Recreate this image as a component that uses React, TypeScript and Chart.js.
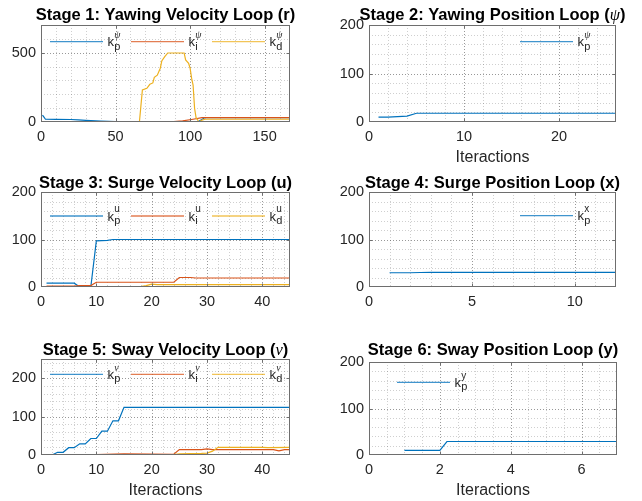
import React, { useEffect, useRef } from 'react';
import { Chart, registerables } from 'chart.js';

Chart.register(...registerables);

// ---------- colours ----------
const BLUE = '#0072BD';
const ORANGE = '#D95319';
const YELLOW = '#EDB120';

// ---------- Stage 1: Yawing Velocity Loop (r) ----------
const s1KpX = [1, 2, 3, 10, 20, 25, 30, 40, 45, 50, 60, 105, 110, 167];
const s1KpY = [50, 35, 20, 19, 18, 15, 12, 6, 4, 2, 0, 0, 32, 32];
const s1KiX = [1, 85, 95, 102, 108, 167];
const s1KiY = [0, 0, 8, 20, 31, 31];
const s1KdX = [1, 66, 68, 71, 73, 75, 76, 78, 80, 81, 83, 85, 96, 97, 99, 100, 101, 102, 103, 104, 106, 108, 110, 167];
const s1KdY = [0, 0, 231, 243, 272, 282, 322, 338, 388, 440, 472, 498, 498, 448, 424, 388, 316, 267, 99, 31, 0, 14, 20, 20];
const s1XTicks = [0, 50, 100, 150];
const s1YTicks = [0, 500];

// ---------- Stage 2: Yawing Position Loop (psi) ----------
const s2KpX = [1, 2, 3, 4, 5, 26];
const s2KpY = [10, 10, 11, 12, 18, 18];
const s2XTicks = [0, 10, 20];
const s2YTicks = [0, 100, 200];

// ---------- Stage 3: Surge Velocity Loop (u) ----------
const s3KpX = [1, 6, 7, 9, 10, 12, 13, 45];
const s3KpY = [8, 8, 0, 0, 97, 98, 100, 100];
const s3KiX = [1, 6, 7, 9, 10, 24, 25, 27, 28, 45];
const s3KiY = [2, 2, 3, 3, 10, 10, 20, 20, 19, 19];
const s3KdX = [1, 9, 10, 18, 19, 20, 21, 45];
const s3KdY = [0, 0, 1, 1, 3, 6, 5, 5];
const s3XTicks = [0, 10, 20, 30, 40];
const s3YTicks = [0, 100, 200];

// ---------- Stage 4: Surge Position Loop (x) ----------
const s4KpX = [1, 2, 3, 12];
const s4KpY = [30, 30, 31, 31];
const s4XTicks = [0, 5, 10];
const s4YTicks = [0, 100, 200];

// ---------- Stage 5: Sway Velocity Loop (nu) ----------
const s5KpX = [1, 2, 3, 4, 5, 6, 7, 8, 9, 10, 11, 12, 13, 14, 15, 45];
const s5KpY = [0, 0, 7, 7, 19, 19, 29, 29, 43, 43, 62, 62, 89, 89, 124, 124];
const s5KiX = [1, 10, 15, 24, 25, 29, 30, 31, 42, 43, 44, 45];
const s5KiY = [0, 1, 3, 2, 14, 14, 16, 14, 14, 11, 14, 14];
const s5KdX = [1, 24, 25, 29, 30, 31, 32, 40, 41, 45];
const s5KdY = [0, 1, 3, 4, 5, 10, 20, 20, 19, 20];
const s5XTicks = [0, 10, 20, 30, 40];
const s5YTicks = [0, 100, 200];

// ---------- Stage 6: Sway Position Loop (y) ----------
const s6KpX = [1, 2, 2.2, 7];
const s6KpY = [10, 10, 29, 29];
const s6XTicks = [0, 2, 4, 6];
const s6YTicks = [0, 100, 200];

type Seg = { t: string; greek?: boolean };
type Series = { x: number[]; y: number[]; color: string; sub: string; sup: string; greekSup?: boolean };
type Panel = {
  box: [number, number, number, number];
  area: [number, number, number, number];
  xMax: number;
  yMax: number;
  xTicks: number[];
  yTicks: number[];
  xMinor: number;
  yMinor: number;
  title: Seg[];
  titleY: number;
  xlabel?: string;
  series: Series[];
  legendY: number;
  legendX: number[];
};

const FONT = '"Liberation Sans", Arial, Helvetica, sans-serif';
const SERIF = '"Liberation Serif", "DejaVu Serif", serif';
const TXT = '#262626';

const panels: Panel[] = [
  {
    box: [0, 0, 321, 165], area: [41, 25, 290, 122], xMax: 167, yMax: 700,
    xTicks: s1XTicks, yTicks: s1YTicks, xMinor: 10, yMinor: 100,
    title: [{ t: 'Stage 1: Yawing Velocity Loop (r)' }], titleY: 20,
    series: [
      { x: s1KpX, y: s1KpY, color: BLUE, sub: 'p', sup: 'ψ', greekSup: true },
      { x: s1KiX, y: s1KiY, color: ORANGE, sub: 'i', sup: 'ψ', greekSup: true },
      { x: s1KdX, y: s1KdY, color: YELLOW, sub: 'd', sup: 'ψ', greekSup: true },
    ],
    legendY: 41.7, legendX: [50, 131, 212],
  },
  {
    box: [321, 0, 321, 165], area: [369, 25, 616, 122], xMax: 26, yMax: 200,
    xTicks: s2XTicks, yTicks: s2YTicks, xMinor: 2, yMinor: 20,
    title: [{ t: 'Stage 2: Yawing Position Loop (' }, { t: 'ψ', greek: true }, { t: ')' }], titleY: 19.5,
    xlabel: 'Iteractions',
    series: [{ x: s2KpX, y: s2KpY, color: BLUE, sub: 'p', sup: 'ψ', greekSup: true }],
    legendY: 41.7, legendX: [520],
  },
  {
    box: [0, 165, 321, 165], area: [41, 192, 290, 287], xMax: 45, yMax: 200,
    xTicks: s3XTicks, yTicks: s3YTicks, xMinor: 2, yMinor: 20,
    title: [{ t: 'Stage 3: Surge Velocity Loop (u)' }], titleY: 188,
    series: [
      { x: s3KpX, y: s3KpY, color: BLUE, sub: 'p', sup: 'u' },
      { x: s3KiX, y: s3KiY, color: ORANGE, sub: 'i', sup: 'u' },
      { x: s3KdX, y: s3KdY, color: YELLOW, sub: 'd', sup: 'u' },
    ],
    legendY: 216, legendX: [50, 131, 212],
  },
  {
    box: [321, 165, 321, 165], area: [369, 192, 616, 287], xMax: 12, yMax: 200,
    xTicks: s4XTicks, yTicks: s4YTicks, xMinor: 1, yMinor: 20,
    title: [{ t: 'Stage 4: Surge Position Loop (x)' }], titleY: 188,
    series: [{ x: s4KpX, y: s4KpY, color: BLUE, sub: 'p', sup: 'x' }],
    legendY: 215.7, legendX: [520],
  },
  {
    box: [0, 330, 321, 171], area: [41, 359, 290, 455], xMax: 45, yMax: 250,
    xTicks: s5XTicks, yTicks: s5YTicks, xMinor: 2, yMinor: 20,
    title: [{ t: 'Stage 5: Sway Velocity Loop (' }, { t: 'ν', greek: true }, { t: ')' }], titleY: 355,
    xlabel: 'Iteractions',
    series: [
      { x: s5KpX, y: s5KpY, color: BLUE, sub: 'p', sup: 'ν', greekSup: true },
      { x: s5KiX, y: s5KiY, color: ORANGE, sub: 'i', sup: 'ν', greekSup: true },
      { x: s5KdX, y: s5KdY, color: YELLOW, sub: 'd', sup: 'ν', greekSup: true },
    ],
    legendY: 374.3, legendX: [50, 131, 212],
  },
  {
    box: [321, 330, 321, 171], area: [369, 362, 617, 455], xMax: 7, yMax: 200,
    xTicks: s6XTicks, yTicks: s6YTicks, xMinor: 0.5, yMinor: 20,
    title: [{ t: 'Stage 6: Sway Position Loop (y)' }], titleY: 355,
    xlabel: 'Iteractions',
    series: [{ x: s6KpX, y: s6KpY, color: BLUE, sub: 'p', sup: 'y' }],
    legendY: 382.3, legendX: [397],
  },
];

function decor(p: Panel) {
  const [cx, cy] = p.box;
  return {
    id: 'matlabDecor',
    beforeDatasetsDraw(chart: any) {
      const { ctx, chartArea: a, scales } = chart;
      const xs = scales.x;
      const ys = scales.y;
      ctx.save();
      ctx.lineWidth = 1;
      ctx.setLineDash([1, 2]);
      const drawV = (v: number, col: string) => {
        const px = Math.round(xs.getPixelForValue(v)) + 0.5;
        if (px <= a.left + 0.6 || px >= a.right - 0.6) return;
        ctx.strokeStyle = col;
        ctx.beginPath();
        ctx.moveTo(px, a.top);
        ctx.lineTo(px, a.bottom);
        ctx.stroke();
      };
      const drawH = (v: number, col: string) => {
        const py = Math.round(ys.getPixelForValue(v)) + 0.5;
        if (py <= a.top + 0.6 || py >= a.bottom - 0.6) return;
        ctx.strokeStyle = col;
        ctx.beginPath();
        ctx.moveTo(a.left, py);
        ctx.lineTo(a.right, py);
        ctx.stroke();
      };
      const minorCol = 'rgba(38,38,38,0.22)';
      const majorCol = 'rgba(38,38,38,0.32)';
      const nx = Math.round(p.xMax / p.xMinor);
      for (let i = 1; i <= nx; i++) drawV(i * p.xMinor, minorCol);
      const ny = Math.round(p.yMax / p.yMinor);
      for (let i = 1; i <= ny; i++) drawH(i * p.yMinor, minorCol);
      p.xTicks.forEach((v) => drawV(v, majorCol));
      p.yTicks.forEach((v) => drawH(v, majorCol));
      ctx.restore();
    },
    afterDraw(chart: any) {
      const { ctx, chartArea: a, scales } = chart;
      const xs = scales.x;
      const ys = scales.y;
      ctx.save();
      ctx.setLineDash([]);
      ctx.lineWidth = 1;
      ctx.strokeStyle = '#6e6e6e';
      const l = Math.round(a.left) + 0.5;
      const r = Math.round(a.right) - 0.5;
      const t = Math.round(a.top) + 0.5;
      const b = Math.round(a.bottom) - 0.5;
      ctx.strokeRect(l, t, r - l, b - t);
      const tl = 3;
      ctx.beginPath();
      p.xTicks.forEach((v) => {
        const px = Math.round(xs.getPixelForValue(v)) + 0.5;
        if (px <= l + 1 || px >= r - 1) return;
        ctx.moveTo(px, b);
        ctx.lineTo(px, b - tl);
        ctx.moveTo(px, t);
        ctx.lineTo(px, t + tl);
      });
      p.yTicks.forEach((v) => {
        const py = Math.round(ys.getPixelForValue(v)) + 0.5;
        if (py <= t + 1 || py >= b - 1) return;
        ctx.moveTo(l, py);
        ctx.lineTo(l + tl, py);
        ctx.moveTo(r, py);
        ctx.lineTo(r - tl, py);
      });
      ctx.stroke();

      // title (centred over the axes)
      const tFont = (g?: boolean) => (g ? `italic 16.5px ${SERIF}` : `bold 16.5px ${FONT}`);
      let total = 0;
      p.title.forEach((s) => {
        ctx.font = tFont(s.greek);
        total += ctx.measureText(s.t).width;
      });
      let tx = (a.left + a.right) / 2 - total / 2;
      ctx.fillStyle = '#000000';
      ctx.textBaseline = 'alphabetic';
      ctx.textAlign = 'left';
      p.title.forEach((s) => {
        ctx.font = tFont(s.greek);
        ctx.fillText(s.t, tx, p.titleY - cy);
        tx += ctx.measureText(s.t).width;
      });

      // x label
      if (p.xlabel) {
        ctx.font = `16px ${FONT}`;
        ctx.fillStyle = TXT;
        ctx.textAlign = 'center';
        ctx.fillText(p.xlabel, (a.left + a.right) / 2, a.bottom + 40);
      }

      // legend (no box)
      ctx.textAlign = 'left';
      p.series.forEach((s, i) => {
        const x0 = p.legendX[i] - cx;
        const y0 = p.legendY - cy;
        ctx.strokeStyle = s.color;
        ctx.globalAlpha = 0.75;
        ctx.lineWidth = 1.3;
        ctx.beginPath();
        ctx.moveTo(x0, y0);
        ctx.lineTo(x0 + 53, y0);
        ctx.stroke();
        ctx.globalAlpha = 1;
        ctx.fillStyle = TXT;
        ctx.font = `13px ${FONT}`;
        const kx = x0 + 57.5;
        ctx.fillText('k', kx, y0 + 4.6);
        const kw = ctx.measureText('k').width;
        ctx.font = `11px ${FONT}`;
        ctx.fillText(s.sub, kx + kw + 0.3, y0 + 7.8);
        ctx.font = s.greekSup ? `italic 10px ${SERIF}` : `10px ${FONT}`;
        ctx.fillText(s.sup, kx + kw + 0.3, y0 - 3.8);
      });
      ctx.restore();
    },
  };
}

function Subplot({ p }: { p: Panel }) {
  const ref = useRef<HTMLCanvasElement | null>(null);
  useEffect(() => {
    const canvas = ref.current;
    if (!canvas) return;
    const [cx, cy, cw, ch] = p.box;
    const [L, T, R, B] = p.area;
    const n = p.series.length;
    const chart = new Chart(canvas, {
      type: 'line',
      data: {
        datasets: p.series.map((s, i) => ({
          label: 'k' + s.sub,
          data: s.x.map((xv, j) => ({ x: xv, y: s.y[j] })),
          borderColor: s.color,
          backgroundColor: s.color,
          borderWidth: 1.2,
          pointRadius: 0,
          fill: false,
          tension: 0,
          order: n - i,
        })),
      },
      options: {
        animation: false,
        responsive: false,
        maintainAspectRatio: false,
        events: [],
        layout: { padding: { top: T - cy, left: 0, right: cx + cw - R, bottom: 0 } },
        plugins: {
          legend: { display: false },
          tooltip: { enabled: false },
          title: { display: false },
        },
        scales: {
          x: {
            type: 'linear',
            min: 0,
            max: p.xMax,
            grid: { display: false, drawTicks: false },
            border: { display: false },
            afterBuildTicks: (sc: any) => {
              sc.ticks = p.xTicks.map((v) => ({ value: v }));
            },
            afterFit: (sc: any) => {
              sc.height = cy + ch - B;
            },
            ticks: {
              autoSkip: false,
              maxRotation: 0,
              padding: 6,
              color: TXT,
              font: { family: FONT, size: 14.5 },
              callback: (v: any) => String(v),
            },
          },
          y: {
            type: 'linear',
            min: 0,
            max: p.yMax,
            grid: { display: false, drawTicks: false },
            border: { display: false },
            afterBuildTicks: (sc: any) => {
              sc.ticks = p.yTicks.map((v) => ({ value: v }));
            },
            afterFit: (sc: any) => {
              sc.width = L - cx;
            },
            ticks: {
              autoSkip: false,
              padding: 5,
              color: TXT,
              font: { family: FONT, size: 14.5 },
              callback: (v: any) => String(v),
            },
          },
        },
      } as any,
      plugins: [decor(p)],
    });
    return () => chart.destroy();
  }, [p]);
  const [cx, cy, cw, ch] = p.box;
  return (
    <canvas
      ref={ref}
      width={cw}
      height={ch}
      style={{ position: 'absolute', left: cx, top: cy, width: cw, height: ch }}
    />
  );
}

export default function App() {
  return (
    <div style={{ position: 'absolute', left: 0, top: 0, width: 642, height: 501, background: '#ffffff', overflow: 'hidden' }}>
      {panels.map((p, i) => (
        <Subplot key={i} p={p} />
      ))}
    </div>
  );
}
